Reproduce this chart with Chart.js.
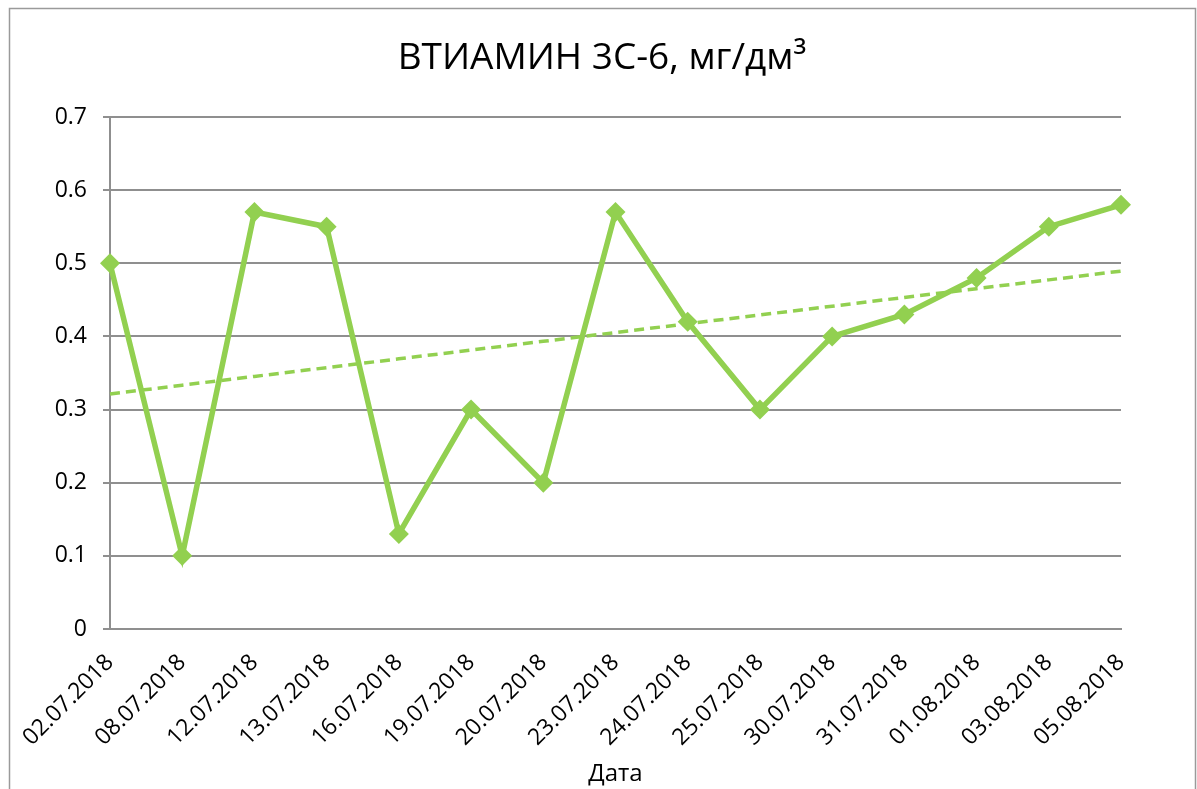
<!DOCTYPE html>
<html>
<head>
<meta charset="utf-8">
<script src="https://cdn.jsdelivr.net/npm/chart.js@4/dist/chart.umd.min.js"></script>
<style>
  html, body { margin: 0; padding: 0; background: #fff; }
  #wrap { position: relative; width: 1197px; height: 789px; overflow: hidden; }
  canvas { display: block; }
</style>
</head>
<body>
<div id="wrap"><canvas id="c" width="1197" height="789"></canvas></div>
<script>
const titleText = 'ВТИАМИН 3С-6, мг/дм³';
const axisTitle = 'Дата';
const dates = ['02.07.2018', '08.07.2018', '12.07.2018', '13.07.2018', '16.07.2018',
  '19.07.2018', '20.07.2018', '23.07.2018', '24.07.2018', '25.07.2018',
  '30.07.2018', '31.07.2018', '01.08.2018', '03.08.2018', '05.08.2018'];
const values = [0.5, 0.1, 0.57, 0.55, 0.13, 0.3, 0.2, 0.57, 0.42, 0.3, 0.4, 0.43, 0.48, 0.55, 0.58];
const yTicks = [0, 0.1, 0.2, 0.3, 0.4, 0.5, 0.6, 0.7];

// Least-squares linear trend over the category index
function linearTrend(ys) {
  const n = ys.length;
  const mx = (n - 1) / 2;
  const my = ys.reduce((a, b) => a + b, 0) / n;
  let sxy = 0, sxx = 0;
  ys.forEach((y, i) => { sxy += (i - mx) * (y - my); sxx += (i - mx) * (i - mx); });
  const k = sxy / sxx;
  return ys.map((_, i) => my + k * (i - mx));
}
const trend = linearTrend(values);

const GREEN = '#92D050';
const FONT = "'Open Sans', 'Noto Sans', sans-serif";

// Outer frame and centred heading
const framePlugin = {
  id: 'frame',
  afterDraw(chart) {
    const ctx = chart.ctx;
    ctx.save();
    ctx.strokeStyle = '#9a9a9a';
    ctx.lineWidth = 1.5;
    ctx.strokeRect(9.5, 8.5, 1186, 800);
    ctx.fillStyle = '#000';
    ctx.font = '37px ' + FONT;
    ctx.textAlign = 'center';
    ctx.textBaseline = 'middle';
    ctx.fillText(titleText, 602, 58);
    ctx.restore();
  }
};

new Chart(document.getElementById('c'), {
  type: 'line',
  data: {
    labels: dates,
    datasets: [
      {
        data: trend,
        borderColor: GREEN,
        borderWidth: 3.5,
        borderDash: [10, 6],
        pointRadius: 0,
        fill: false,
        order: 2
      },
      {
        data: values,
        borderColor: GREEN,
        backgroundColor: GREEN,
        borderWidth: 5.5,
        pointStyle: 'rectRot',
        pointRadius: 10,
        pointBorderWidth: 0,
        fill: false,
        tension: 0,
        order: 1
      }
    ]
  },
  options: {
    responsive: false,
    animation: false,
    devicePixelRatio: 1,
    layout: { padding: { left: 0, right: 76, top: 117, bottom: 0 } },
    plugins: {
      legend: { display: false },
      tooltip: { enabled: false },
      title: { display: false }
    },
    scales: {
      x: {
        offset: false,
        grid: { display: false, drawTicks: false },
        border: { display: true, color: '#8f8f8f', width: 2 },
        ticks: {
          color: '#000',
          font: { family: FONT, size: 23 },
          maxRotation: 45,
          minRotation: 45,
          autoSkip: false,
          padding: 20
        },
        title: {
          display: true,
          text: axisTitle,
          color: '#000',
          font: { family: FONT, size: 24 },
          padding: { top: 0, bottom: 0 }
        },
        afterFit(scale) { scale.height = 160; }
      },
      y: {
        min: 0,
        max: 0.7,
        afterBuildTicks(scale) { scale.ticks = yTicks.map(v => ({ value: v })); },
        grid: { color: '#8f8f8f', lineWidth: 2, tickLength: 7, drawTicks: true },
        border: { display: true, color: '#8f8f8f', width: 2 },
        ticks: {
          color: '#000',
          font: { family: FONT, size: 23 },
          padding: 16,
          callback: v => (v === 0 ? '0' : Number(v).toFixed(1))
        },
        afterFit(scale) { scale.width = 110; }
      }
    }
  },
  plugins: [framePlugin]
});
</script>
</body>
</html>
